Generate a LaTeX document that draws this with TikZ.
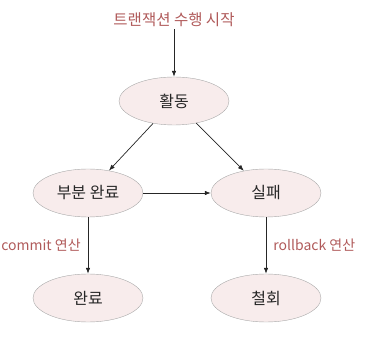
\documentclass[tikz,border=0pt]{standalone}
\usepackage{fontspec}
\setmainfont{Noto Sans CJK KR}
\definecolor{trink}{HTML}{262626}
\definecolor{trred}{HTML}{B05A5A}
\definecolor{trfill}{HTML}{F8ECEC}
\definecolor{trline}{HTML}{A8A8A8}
\usetikzlibrary{positioning, arrows.meta, shapes.geometric}

\begin{document}
\begin{tikzpicture}[x=1pt, y=1pt, node distance=92pt and 86pt,
    state/.style={on grid, ellipse, draw=trline, fill=trfill, minimum width=110pt, minimum height=48pt, text=trink, font=\fontsize{16}{19}\selectfont},
    note/.style={text=trred, font=\fontsize{14}{17}\selectfont, inner sep=2pt},
    flow/.style={-{Latex[length=6pt, width=4.5pt]}, trink, line width=0.7pt}]
        \useasboundingbox (0,0) rectangle (366,337);
        \node[state] (act) at (174,236) {활동};
        \node[on grid, note, font=\fontsize{15.5}{18}\selectfont, above=81pt of act] (start) {트랜잭션 수행 시작};
        \node[state, below left=92pt and 86pt of act] (part) {부분 완료};
        \node[state, below right=92pt and 92pt of act] (fail) {실패};
        \node[state, below=105pt of part] (done) {완료};
        \node[state, below=105pt of fail] (abort) {철회};
        \draw[flow] (start) -- (act);
        \draw[flow] (act) -- (part);
        \draw[flow] (act) -- (fail);
        \draw[flow] (part) -- (fail);
        \draw[flow] (part) -- node[note, left=5pt] (commit) {commit 연산} (done);
        \draw[flow] (fail) -- node[note, right=5pt] (rollback) {rollback 연산} (abort);
      \end{tikzpicture}
\end{document}
